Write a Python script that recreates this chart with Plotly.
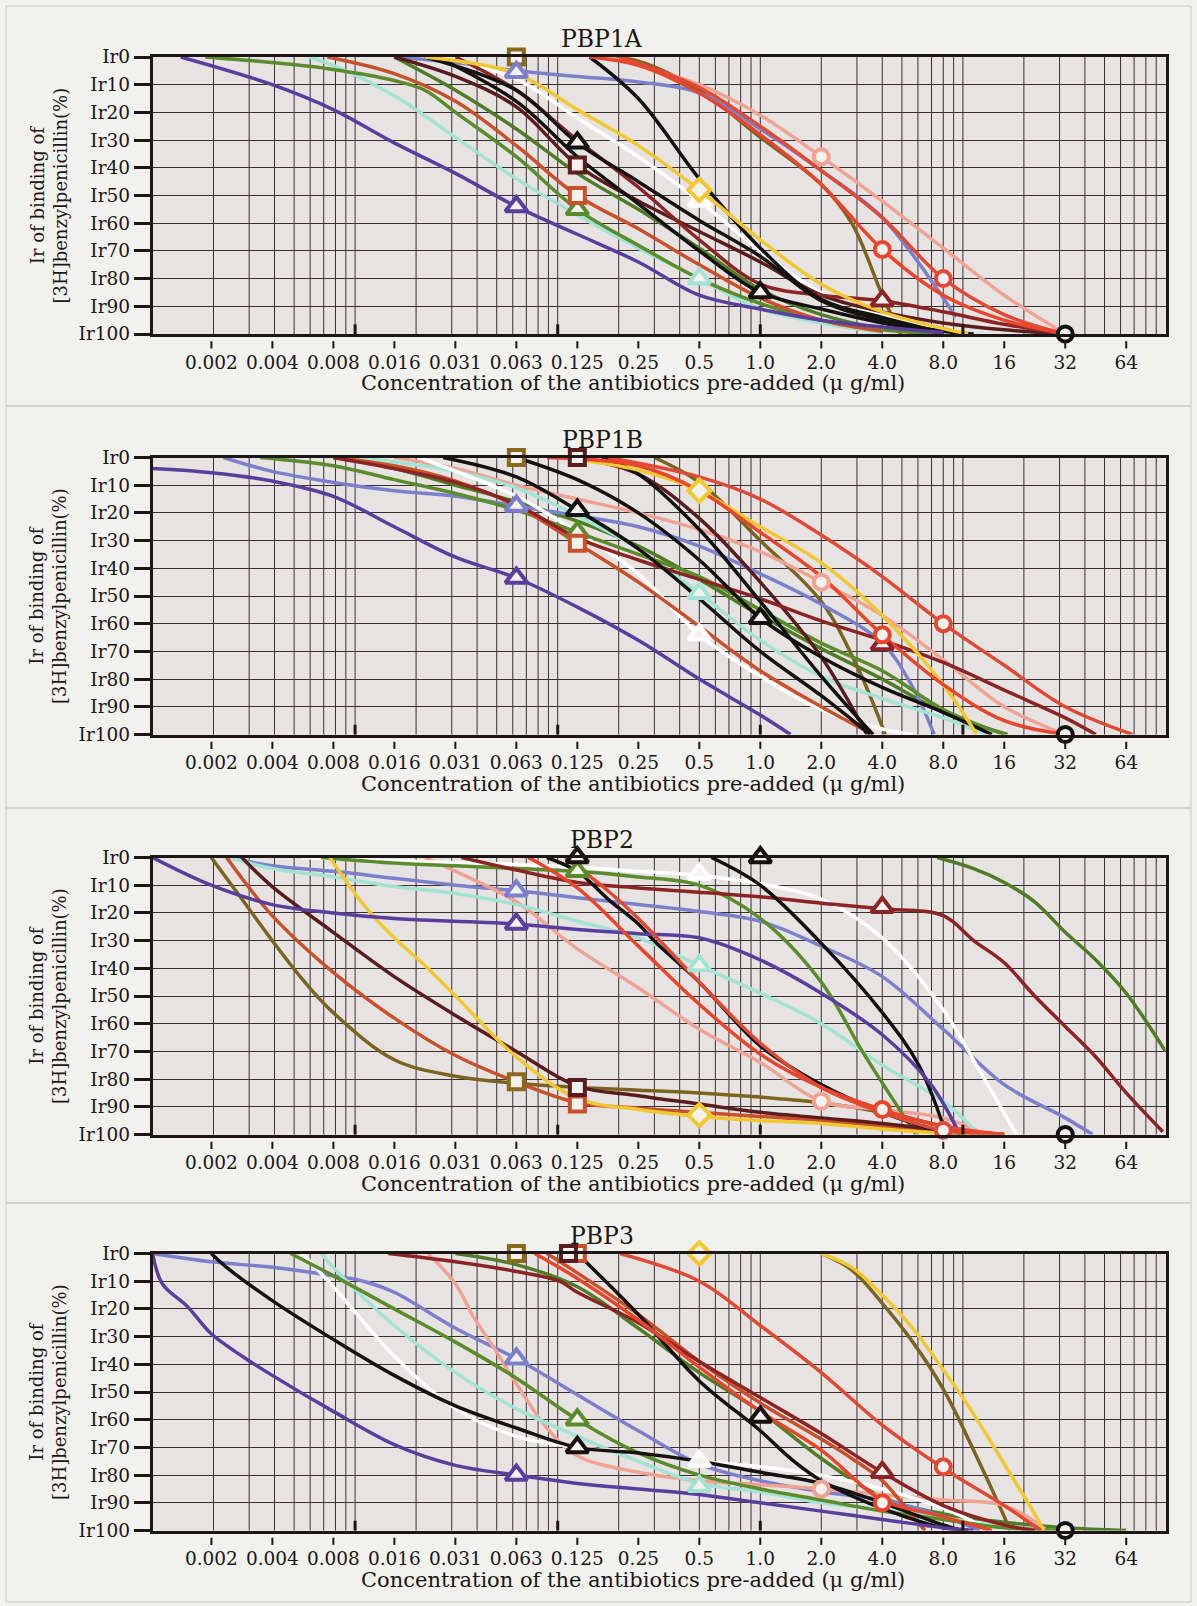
import plotly.graph_objects as go

# ---------------- data ----------------
PANEL_TITLES = ["PBP1A", "PBP1B", "PBP2", "PBP3"]
X_TICK_VALS = [0.001953125, 0.00390625, 0.0078125, 0.015625, 0.03125, 0.0625,
               0.125, 0.25, 0.5, 1, 2, 4, 8, 16, 32, 64]
X_TICK_TEXT = ["0.002", "0.004", "0.008", "0.016", "0.031", "0.063", "0.125",
               "0.25", "0.5", "1.0", "2.0", "4.0", "8.0", "16", "32", "64"]
Y_TICK_VALS = [0, 10, 20, 30, 40, 50, 60, 70, 80, 90, 100]
Y_TICK_TEXT = ["Ir0", "Ir10", "Ir20", "Ir30", "Ir40", "Ir50", "Ir60", "Ir70",
               "Ir80", "Ir90", "Ir100"]

SERIES_COLORS = {
    "purple": "#5a3e9e", "blueviolet": "#7b80cc", "olive": "#7a6420",
    "mint": "#a2e3d3", "white": "#ffffff", "yellow": "#f2c830",
    "green": "#5b8c2c", "green2": "#4e7d26", "blackA": "#171212",
    "black2": "#141010", "black3": "#111111", "brick": "#c8502a",
    "maroon": "#5a1c1c", "darkred": "#8c2424", "pink": "#f0a393",
    "red": "#e8452c", "red2": "#e04a34",
}
SERIES_SYMBOLS = {
    "purple": "triangle-up", "blueviolet": "triangle-up", "mint": "triangle-up",
    "white": "triangle-up", "green": "triangle-up", "blackA": "triangle-up",
    "black2": "triangle-up", "darkred": "triangle-up", "olive": "square",
    "brick": "square", "maroon": "square", "yellow": "diamond",
    "pink": "circle", "red": "circle", "red2": "circle", "black3": "circle",
}
DRAW_ORDER = ["green2", "olive", "blueviolet", "pink", "mint", "white", "green",
              "brick", "maroon", "darkred", "black3", "blackA", "black2",
              "yellow", "purple", "red2", "red"]

PBP1A_CURVES = {
    "purple": ([0.00138, 0.0039, 0.0078, 0.0156, 0.0313, 0.0625, 0.125, 0.25, 0.5, 1, 2, 4, 8],
               [0, 10, 19, 31, 42, 54, 64, 74, 86, 91, 95, 97.5, 99.5]),
    "mint": ([0.0059, 0.0078, 0.0156, 0.0313, 0.0625, 0.125, 0.25, 0.5, 1, 2, 4],
             [0, 3, 14, 29, 44, 57, 69, 80, 91, 96, 99.5]),
    "green": ([0.00182, 0.0039, 0.0078, 0.0156, 0.0221, 0.0313, 0.0625, 0.125, 0.25, 0.5, 1, 2, 4, 8],
              [0, 2, 4.5, 8.5, 12, 20, 36, 55, 68, 80, 89, 95, 98.5, 100]),
    "green2": ([0.0156, 0.0313, 0.0625, 0.125, 0.25, 0.5, 1, 2, 4, 8],
               [0, 12, 26, 42, 55, 69, 84, 93, 98, 100]),
    "brick": ([0.0073, 0.0156, 0.0313, 0.0625, 0.125, 0.25, 0.5, 1, 2, 4],
              [0, 6, 16, 32, 50, 62, 75, 87, 95, 99]),
    "blackA": ([0.0221, 0.0625, 0.125, 0.25, 0.5, 1, 2, 4, 8, 11.3],
               [0, 12, 31, 45, 59, 72, 88, 95, 99, 100]),
    "black3": ([0.144, 0.25, 0.5, 1, 2, 4, 8],
               [0, 15, 44, 69, 87.5, 94, 99.5]),
    "black2": ([0.0254, 0.0625, 0.125, 0.25, 0.5, 1, 2, 4, 8],
               [0, 16, 36, 53, 70, 85, 91, 96, 99.5]),
    "maroon": ([0.0156, 0.0313, 0.0625, 0.125, 0.25, 0.5, 1, 2, 4, 8, 16, 32],
               [0, 7, 18, 39, 52, 63, 74, 86, 92, 96, 98.5, 100]),
    "darkred": ([0.0313, 0.0625, 0.125, 0.25, 0.5, 1, 2, 4, 8, 16, 32],
                [0, 12, 30, 47, 66, 82, 86, 88, 92, 96.5, 100]),
    "olive": ([0.177, 0.25, 0.5, 1, 2, 2.83, 4, 4.92],
              [0, 1.5, 12, 29, 46, 60, 86, 100]),
    "blueviolet": ([0.0156, 0.0313, 0.0625, 0.125, 0.25, 0.5, 1, 2, 4, 8, 9.19],
                   [0, 2, 5, 7, 9, 13, 26, 41, 58, 87, 94]),
    "yellow": ([0.0221, 0.0625, 0.125, 0.25, 0.5, 1, 2, 4, 8, 10.6],
               [0, 6, 19, 32, 48, 66, 82, 92, 98, 100]),
    "white": ([0.0272, 0.0625, 0.125, 0.25, 0.5, 1, 2, 4, 8],
              [0, 8, 22, 36, 52, 70, 85, 93, 98.5]),
    "pink": ([0.177, 0.5, 1, 2, 4, 8, 16, 32],
             [0, 10, 21, 36, 52, 69, 86, 100]),
    "red": ([0.144, 0.25, 0.5, 1, 2, 4, 8, 16, 32],
            [0, 3, 13, 28, 46, 69.5, 86, 95, 100]),
    "red2": ([0.203, 0.5, 1, 2, 4, 8, 16, 32],
             [0, 11, 25, 41, 58, 80, 93, 100]),
}
PBP1A_MARKS = {"purple": (0.0625, 54), "blueviolet": (0.0625, 5.5), "olive": (0.0625, 0),
               "mint": (0.5, 80), "white": (0.5, 52), "yellow": (0.5, 48),
               "green": (0.125, 55), "blackA": (0.125, 31), "brick": (0.125, 50),
               "maroon": (0.125, 39), "black2": (1, 85), "pink": (2, 36),
               "red": (4, 69.5), "darkred": (4, 88), "red2": (8, 80), "black3": (32, 100)}

PBP1B_CURVES = {
    "purple": ([0.001, 0.00195, 0.0039, 0.0078, 0.0156, 0.0313, 0.0625, 0.125, 0.25, 0.5, 1, 1.41],
               [4, 5.5, 8.5, 14, 25, 36, 43.5, 54, 66, 80, 93, 100]),
    "blueviolet": ([0.00224, 0.0039, 0.0078, 0.0156, 0.0313, 0.0625, 0.125, 0.25, 0.5, 1, 2, 4, 5.66, 7.21],
                   [0, 5, 9, 12, 14, 17.5, 21, 25, 32, 42, 53, 67, 83, 100]),
    "olive": ([0.3, 0.5, 1, 2, 3.03, 4.14],
              [0, 9, 30, 52, 76, 100]),
    "mint": ([0.0103, 0.0313, 0.0625, 0.125, 0.25, 0.5, 1, 2, 4, 8, 13.0],
             [0, 5, 11, 21, 33, 49, 66, 79, 87, 94, 100]),
    "white": ([0.0206, 0.0625, 0.125, 0.25, 0.5, 1, 2, 4, 5.66],
              [0, 14, 27, 42, 64, 79, 91, 98, 100]),
    "yellow": ([0.102, 0.25, 0.5, 1, 2, 4, 8, 11.7],
               [0, 4.5, 12, 25, 38, 57, 82, 100]),
    "green": ([0.0034, 0.0078, 0.0156, 0.0313, 0.0625, 0.125, 0.25, 0.5, 1, 2, 4, 8, 16],
              [0, 3, 8, 13, 19, 27, 35, 43, 55, 67, 77, 91, 100]),
    "green2": ([0.0078, 0.0156, 0.0313, 0.0625, 0.125, 0.25, 0.5, 1, 2, 4, 8, 16.6],
               [0, 4, 10, 16, 23, 32, 44, 57, 69, 80, 92, 100]),
    "blackA": ([0.0272, 0.0625, 0.125, 0.25, 0.5, 1, 2, 3.48],
               [0, 7, 19, 33, 51, 70, 86, 100]),
    "brick": ([0.0078, 0.0156, 0.0313, 0.0625, 0.125, 0.25, 0.5, 1, 2, 3.6],
              [0, 3, 8.5, 17.5, 31, 45, 61, 77, 90, 100]),
    "maroon": ([0.125, 0.25, 0.5, 1, 2, 3.36],
               [0, 6, 22, 45, 72, 100]),
    "darkred": ([0.0078, 0.0156, 0.0313, 0.0625, 0.125, 0.25, 0.5, 1, 2, 4, 8, 16, 32, 45.3],
                [0, 4, 9, 17, 29, 37, 44, 51, 59, 66, 74, 84, 94, 100]),
    "black2": ([0.0625, 0.125, 0.25, 0.5, 1, 2, 4, 8, 13.9],
               [0, 8, 20, 37, 58, 72, 83, 92, 100]),
    "black3": ([0.165, 0.25, 0.5, 1, 2, 3.6],
               [0, 6, 26, 52, 79, 100]),
    "pink": ([0.0156, 0.0313, 0.0625, 0.125, 0.25, 0.5, 1, 2, 4, 8, 16, 32],
             [0, 4, 10, 15, 20, 26, 34, 45, 57, 73, 90, 100]),
    "red": ([0.0884, 0.25, 0.5, 1, 2, 4, 8, 16, 32],
            [0, 3, 12, 27, 43, 64, 82, 95, 100]),
    "red2": ([0.177, 0.5, 1, 2, 4, 8, 16, 32, 68.6],
             [0, 7, 15, 28, 43, 60, 75, 90, 100]),
}
PBP1B_MARKS = {"olive": (0.0625, 0), "maroon": (0.125, 0), "yellow": (0.5, 12),
               "blackA": (0.125, 19), "blueviolet": (0.0625, 17.5), "purple": (0.0625, 43.5),
               "green": (0.125, 27), "brick": (0.125, 31), "mint": (0.5, 49),
               "white": (0.5, 64), "black2": (1, 58), "pink": (2, 45), "red": (4, 64),
               "darkred": (4, 67.5), "red2": (8, 60), "black3": (32, 100)}

PBP2_CURVES = {
    "purple": ([0.001, 0.00195, 0.0039, 0.0078, 0.0156, 0.0313, 0.0625, 0.125, 0.25, 0.5, 1, 2, 4, 6.96, 9.65],
               [0, 10, 17, 20, 22, 23, 24, 26, 27.5, 29, 37, 49, 64, 82, 100]),
    "blueviolet": ([0.0024, 0.0039, 0.0078, 0.0156, 0.0313, 0.0625, 0.125, 0.25, 0.5, 1, 2, 4, 8, 16, 32, 43.7],
                   [0, 3, 5, 7.5, 10, 12, 14.5, 17, 19.5, 23, 32, 43, 62, 82, 94, 100]),
    "olive": ([0.00195, 0.00276, 0.0039, 0.0055, 0.0078, 0.0156, 0.0313, 0.0625, 0.125, 0.25, 0.5, 1, 2, 4, 8, 12.1],
              [0, 15, 30, 44, 56, 73, 79, 81.5, 83, 84, 85, 86.5, 88.5, 92, 97, 100]),
    "mint": ([0.0024, 0.0039, 0.0078, 0.0156, 0.0313, 0.0625, 0.125, 0.25, 0.5, 1, 2, 4, 8, 11.3],
             [0, 4, 7, 10.5, 13, 17, 23, 29, 39, 49, 60, 75, 88, 98]),
    "white": ([0.0055, 0.0127, 0.0625, 0.125, 0.25, 0.5, 1, 2, 4, 8, 12.1, 18.4],
              [0, 1, 2.5, 3.5, 5, 6.5, 9.5, 15, 29, 55, 77, 100]),
    "yellow": ([0.0075, 0.011, 0.0156, 0.0221, 0.0313, 0.0625, 0.125, 0.25, 0.5, 1, 2, 4, 8, 16],
               [0, 17, 29, 39, 50, 72, 87, 91, 93.5, 95, 96, 98, 99.5, 100]),
    "green": ([0.0068, 0.0156, 0.0313, 0.0625, 0.125, 0.25, 0.5, 1, 2, 3.25, 5.86],
              [0, 2, 3, 4, 5, 7, 10, 22, 45, 71, 100]),
    "green2": ([7.46, 11.3, 16, 22.6, 32, 45.3, 64, 100],
               [0, 4, 9, 16, 27, 37, 49, 70]),
    "blackA": ([0.0884, 0.125, 0.177, 0.25, 0.308, 0.5, 1, 2, 4, 8, 9.85],
               [0, 5, 15, 24, 31, 45, 68, 82, 92, 99, 100]),
    "black2": ([0.574, 1, 2, 4, 6.06, 8.28],
               [0, 10, 31, 56, 75, 100]),
    "brick": ([0.00232, 0.0039, 0.0078, 0.0156, 0.0313, 0.0625, 0.125, 0.25, 0.5, 1, 2, 4, 8, 11.3],
              [0, 21, 41.5, 58, 71.5, 81, 88.5, 90.5, 92, 93.5, 95, 97, 99, 100]),
    "maroon": ([0.00276, 0.0039, 0.0078, 0.0156, 0.0313, 0.0625, 0.125, 0.25, 0.5, 1, 2, 4, 8, 16],
               [0, 10.5, 27, 43, 57, 70, 82.5, 86, 89, 92, 94, 96, 98.5, 100]),
    "darkred": ([0.0335, 0.0625, 0.125, 0.25, 0.5, 1, 2, 4, 8, 11.3, 16, 22.6, 32, 45.3, 64, 97],
                [0, 4.5, 9, 11, 12.5, 14.2, 16.5, 18.5, 21, 30, 38, 50, 61, 72, 85, 99]),
    "pink": ([0.0221, 0.0313, 0.0625, 0.125, 0.25, 0.5, 1, 2, 4, 8, 13],
             [0, 5, 16, 33, 47, 62, 74, 88, 91, 94, 100]),
    "red": ([0.0718, 0.125, 0.25, 0.5, 1, 2, 4, 8, 16],
            [0, 11, 32, 53, 71, 83, 91, 97, 100]),
    "red2": ([0.109, 0.177, 0.25, 0.5, 1, 2, 4, 8, 16],
             [0, 12, 22, 45, 67, 83, 92, 98.5, 100]),
}
PBP2_MARKS = {"blackA": (0.125, 0), "green": (0.125, 5), "black2": (1, 0),
              "white": (0.5, 6), "blueviolet": (0.0625, 12), "purple": (0.0625, 24),
              "darkred": (4, 18), "mint": (0.5, 39), "olive": (0.0625, 81),
              "maroon": (0.125, 83), "brick": (0.125, 89), "yellow": (0.5, 93),
              "pink": (2, 88), "red": (4, 91), "red2": (8, 98.5), "black3": (32, 100)}

PBP3_CURVES = {
    "purple": ([0.001, 0.00112, 0.00148, 0.00195, 0.00276, 0.0039, 0.0078, 0.0156, 0.0313, 0.0625, 0.125, 0.25, 0.5, 1, 2, 4, 8, 11.3],
               [0, 11, 19, 29, 37, 44, 57, 69, 76.5, 80, 83, 85, 87, 90, 93, 96, 99, 100]),
    "blueviolet": ([0.001, 0.00195, 0.0039, 0.0078, 0.011, 0.0156, 0.0313, 0.0625, 0.125, 0.25, 0.5, 1, 2, 4, 8, 12.1],
                   [0, 3, 5, 8, 10, 14, 27, 38, 51, 64, 76, 82, 86, 89, 95, 100]),
    "olive": ([2, 2.83, 4, 5.66, 8, 11.3, 16, 17.1],
              [0, 6, 18, 32, 49, 71, 95, 100]),
    "yellow": ([2, 2.83, 4, 5.66, 8, 11.3, 16, 22.6, 25.1],
               [0, 5, 15, 27, 42, 58, 76, 94, 100]),
    "mint": ([0.0068, 0.0078, 0.0156, 0.0313, 0.0625, 0.125, 0.25, 0.5, 1, 2, 4, 8, 16, 19.7],
             [0, 5, 26, 43, 56, 66, 75, 83, 86, 90, 92.5, 95.5, 99, 100]),
    "white": ([0.0055, 0.0078, 0.0156, 0.0313, 0.0625, 0.125, 0.25, 0.5, 1, 2, 4, 8, 13.9],
              [0, 12, 37, 56, 66, 70, 72, 75, 77, 80, 85, 92, 100]),
    "green": ([0.0048, 0.0078, 0.0156, 0.0313, 0.0625, 0.125, 0.25, 0.5, 1, 2, 4, 8, 16, 32],
              [0, 8, 20, 32, 45, 60, 72, 80, 85, 89, 93, 96, 99, 100]),
    "green2": ([0.0313, 0.0625, 0.125, 0.25, 0.5, 1, 2, 4, 8, 16, 32, 64],
               [0, 4, 12, 27, 43, 57, 74, 88, 94, 97, 99, 100]),
    "blackA": ([0.00195, 0.00232, 0.0039, 0.0078, 0.0156, 0.0313, 0.0625, 0.125, 0.25, 0.5, 1, 2, 4, 8, 9.85],
               [0, 5, 17, 31, 44, 55, 63, 70, 72, 75, 79, 83, 90, 98, 100]),
    "black2": ([0.125, 0.25, 0.5, 1, 1.41, 2, 4, 8, 10.6],
               [0, 22, 46, 64, 74, 82, 92, 99, 100]),
    "darkred": ([0.0146, 0.0313, 0.0625, 0.102, 0.125, 0.25, 0.5, 1, 2, 4, 8, 16, 22.6],
                [0, 3, 6.5, 10, 14, 25, 39, 52, 65, 79, 91, 98, 100]),
    "brick": ([0.0884, 0.125, 0.25, 0.5, 1, 2, 2.83, 4, 5.66, 6.5],
              [0, 7, 22, 39, 54, 67, 74, 82, 95, 100]),
    "pink": ([0.0229, 0.0313, 0.0385, 0.0474, 0.0625, 0.0884, 0.125, 0.25, 0.5, 1, 2, 4, 8, 16, 26],
             [0, 11, 23, 33, 47, 63, 73, 79, 82, 83.5, 85, 87, 89, 91, 100]),
    "red": ([0.077, 0.125, 0.25, 0.5, 1, 2, 4, 8, 13.9],
            [0, 9, 24, 41, 57, 71, 89, 95, 100]),
    "red2": ([0.203, 0.5, 1, 2, 4, 8, 16, 24.3],
             [0, 10, 26, 43, 62, 77.5, 91, 100]),
}
PBP3_MARKS = {"olive": (0.0625, 0), "maroon": (0.113, 0), "brick": (0.125, 0),
              "yellow": (0.5, 0), "blueviolet": (0.0625, 38), "green": (0.125, 60),
              "black2": (1, 59), "blackA": (0.125, 70), "purple": (0.0625, 80),
              "white": (0.5, 75), "mint": (0.5, 84), "pink": (2, 85), "red": (4, 90),
              "darkred": (4, 79), "red2": (8, 77), "black3": (32, 100)}

PANEL_CURVES = [PBP1A_CURVES, PBP1B_CURVES, PBP2_CURVES, PBP3_CURVES]
PANEL_MARKS = [PBP1A_MARKS, PBP1B_MARKS, PBP2_MARKS, PBP3_MARKS]

# ---------------- layout constants (pixels) ----------------
W, H = 1197, 1606
PLOT_L, PLOT_R = 152.5, 1165.5
TOPS = [57, 457.5, 857.5, 1253.5]
PH = 277
FONT = "DejaVu Serif"
TXT = "#1c1616"
FRAME = "#1e1616"
GRID = "#3a3030"
PLOT_BG = "#e7e3e2"
PAPER_BG = "#f1f1ed"
MARK_FILL = "#f5f1ef"
MARK_SIZE = {"triangle-up": 19, "diamond": 17, "square": 15, "circle": 15}

fig = go.Figure()
shapes = []
annotations = []
layout_axes = {}

for i in range(4):
    n = i + 1
    xn = "x" if n == 1 else f"x{n}"
    yn = "y" if n == 1 else f"y{n}"
    top = TOPS[i]
    curves = PANEL_CURVES[i]
    marks = PANEL_MARKS[i]

    for name in DRAW_ORDER:
        if name not in curves:
            continue
        xs, ys = curves[name]
        fig.add_trace(go.Scatter(
            x=xs, y=ys, mode="lines", xaxis=xn, yaxis=yn,
            line=dict(color=SERIES_COLORS[name], width=3.5, shape="spline", smoothing=1.0),
            showlegend=False, hoverinfo="skip"))

    mnames = [k for k in DRAW_ORDER if k in marks] + [k for k in marks if k not in DRAW_ORDER]
    fig.add_trace(go.Scatter(
        x=[marks[k][0] for k in mnames], y=[marks[k][1] for k in mnames],
        mode="markers", xaxis=xn, yaxis=yn, cliponaxis=False, opacity=1,
        marker=dict(
            symbol=[SERIES_SYMBOLS[k] for k in mnames],
            size=[MARK_SIZE[SERIES_SYMBOLS[k]] for k in mnames],
            color=MARK_FILL, opacity=1,
            line=dict(color=["#8a6a1a" if k == "olive" else SERIES_COLORS[k] for k in mnames], width=4)),
        showlegend=False, hoverinfo="skip"))

    ydom = [1 - (top + PH) / H, 1 - top / H]
    layout_axes["xaxis" if n == 1 else f"xaxis{n}"] = dict(
        type="log", range=[-3, 2], domain=[PLOT_L / W, PLOT_R / W], anchor=yn,
        tickvals=X_TICK_VALS, ticktext=X_TICK_TEXT, ticks="outside", ticklen=10,
        tickcolor="rgba(0,0,0,0)", showgrid=False, zeroline=False,
        showline=True, mirror=True, linecolor=FRAME, linewidth=2.5,
        tickfont=dict(family=FONT, size=18.5, color=TXT), automargin=False)
    layout_axes["yaxis" if n == 1 else f"yaxis{n}"] = dict(
        range=[100, 0], domain=ydom, anchor=xn,
        tickvals=Y_TICK_VALS, ticktext=Y_TICK_TEXT, ticks="outside", ticklen=16,
        tickwidth=2.5, tickcolor=FRAME, showgrid=True, gridcolor=GRID, gridwidth=1.2,
        zeroline=False, showline=True, mirror=True, linecolor=FRAME, linewidth=2.5,
        tickfont=dict(family=FONT, size=18.5, color=TXT), automargin=False)

    # log10 vertical grid
    for d in range(-3, 2):
        for m in range(1, 10):
            v = m * 10 ** d
            if v <= 0.0010001 or v >= 99.99:
                continue
            shapes.append(dict(type="line", xref=xn, yref=f"{yn} domain", x0=v, x1=v,
                               y0=0, y1=1, layer="below", line=dict(color=GRID, width=1)))
            if m == 1:
                shapes.append(dict(type="line", xref=xn, yref=f"{yn} domain", x0=v, x1=v,
                                   y0=0, y1=0.035, layer="above", line=dict(color=FRAME, width=3)))
    # detached x tick marks
    for v in X_TICK_VALS:
        shapes.append(dict(type="line", xref=xn, yref=f"{yn} domain", x0=v, x1=v,
                           y0=-0.026, y1=-0.052, line=dict(color=FRAME, width=2)))

    annotations.append(dict(text=PANEL_TITLES[i], xref="paper", yref="paper",
                            x=602 / W, y=1 - (top - 18) / H, showarrow=False,
                            xanchor="center", yanchor="middle",
                            font=dict(family=FONT, size=23.5, color=TXT)))
    annotations.append(dict(text="Concentration of the antibiotics pre-added (\u03bc g/ml)",
                            xref="paper", yref="paper", x=633 / W, y=1 - (top + PH + 49) / H,
                            showarrow=False, xanchor="center", yanchor="middle",
                            font=dict(family=FONT, size=21, color=TXT)))
    annotations.append(dict(text="Ir of binding of<br>[3H]benzylpenicillin(%)",
                            xref="paper", yref="paper", x=48 / W, y=1 - (top + PH / 2) / H,
                            showarrow=False, xanchor="center", yanchor="middle", textangle=-90,
                            font=dict(family=FONT, size=18, color=TXT)))

# panel frames / separators
for y0, y1 in [(6, 406), (406, 808), (808, 1203), (1203, 1602)]:
    shapes.append(dict(type="rect", xref="paper", yref="paper",
                       x0=6 / W, x1=1191 / W, y0=1 - y1 / H, y1=1 - y0 / H,
                       line=dict(color="#c8c8c3", width=1), fillcolor="rgba(0,0,0,0)",
                       layer="below"))

fig.update_layout(
    width=W, height=H, margin=dict(l=0, r=0, t=0, b=0),
    paper_bgcolor=PAPER_BG, plot_bgcolor=PLOT_BG, showlegend=False,
    shapes=shapes, annotations=annotations, **layout_axes)

fig.write_html(
    "out.html",
    config={"displayModeBar": False},
    post_script="document.body.style.margin='0';document.body.style.background='#f1f1ed';",
)
